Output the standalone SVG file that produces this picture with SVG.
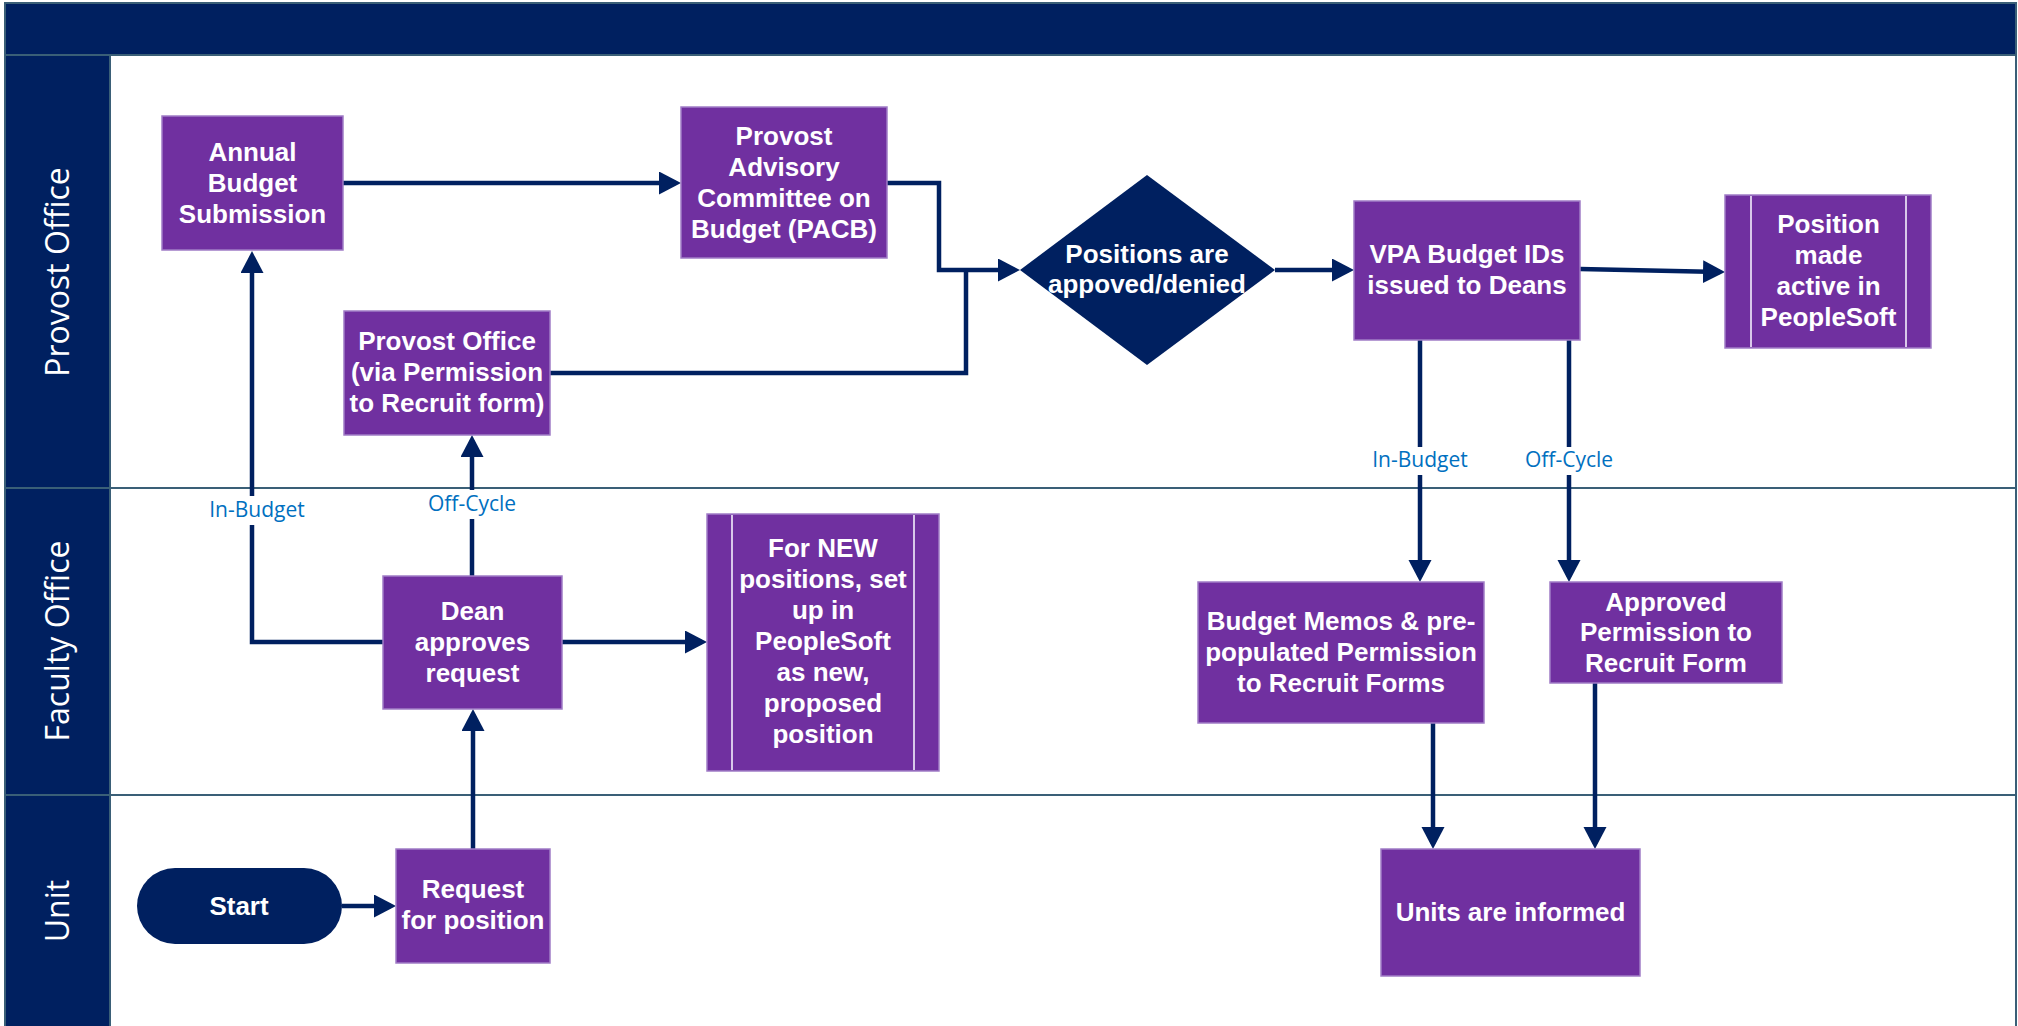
<svg xmlns="http://www.w3.org/2000/svg" width="2018" height="1026" viewBox="0 0 2018 1026">
<defs>
<marker id="ah" markerUnits="userSpaceOnUse" markerWidth="22" markerHeight="24" refX="17" refY="11.5" orient="auto">
<path d="M0,0 L22,11.5 L0,23 z" fill="#002060"/>
</marker>
<style>
.lane{fill:#fff;stroke:#3a5f77;stroke-width:2}
.lanehead{fill:#002060;stroke:#3a5f77;stroke-width:2}
.lanetxt{font-family:"Open Sans","Noto Sans",sans-serif;font-size:32px;fill:#fff;text-anchor:middle}
.box{fill:#7030a0;stroke:#a07cc6;stroke-width:1.5}
.sub{stroke:#d9c8ea;stroke-width:2}
.t{font-family:"Liberation Sans",Arial,sans-serif;font-weight:bold;font-size:26px;fill:#fff;text-anchor:middle}
.c{fill:none;stroke:#002060;stroke-width:4.5;stroke-linejoin:miter}
.lbl{font-family:"Open Sans","Noto Sans",sans-serif;font-size:21px;fill:#0070c0;text-anchor:middle}
</style>
</defs>
<rect x="0" y="0" width="2018" height="1026" fill="#fff"/>
<g id="pool">
<rect x="5" y="3" width="2011" height="52" class="lanehead"/>
<rect x="110" y="55" width="1906" height="433" class="lane"/>
<rect x="110" y="488" width="1906" height="307" class="lane"/>
<rect x="110" y="795" width="1906" height="240" class="lane"/>
<rect x="5" y="55" width="105" height="433" class="lanehead"/>
<rect x="5" y="488" width="105" height="307" class="lanehead"/>
<rect x="5" y="795" width="105" height="240" class="lanehead"/>
<text class="lanetxt" transform="translate(69,272) rotate(-90)">Provost Office</text>
<text class="lanetxt" transform="translate(69,641) rotate(-90)">Faculty Office</text>
<text class="lanetxt" transform="translate(69,911) rotate(-90)">Unit</text>
</g>
<g id="connectors">
<path class="c" d="M343,183 H676" marker-end="url(#ah)"/>
<path class="c" d="M887,183 H939 V270 H1015" marker-end="url(#ah)"/>
<path class="c" d="M550,373 H966 V270"/>
<path class="c" d="M1275,270 H1349" marker-end="url(#ah)"/>
<path class="c" d="M1580,269 L1720,272" marker-end="url(#ah)"/>
<path class="c" d="M1420,340 V577" marker-end="url(#ah)"/>
<path class="c" d="M1569,340 V577" marker-end="url(#ah)"/>
<path class="c" d="M1433,723 V844" marker-end="url(#ah)"/>
<path class="c" d="M1595,683 V844" marker-end="url(#ah)"/>
<path class="c" d="M342,906 H391" marker-end="url(#ah)"/>
<path class="c" d="M473,849 V714" marker-end="url(#ah)"/>
<path class="c" d="M472,576 V440" marker-end="url(#ah)"/>
<path class="c" d="M383,642 H252 V256" marker-end="url(#ah)"/>
<path class="c" d="M562,642 H702" marker-end="url(#ah)"/>
<rect x="1368" y="447" width="104" height="28" fill="#fff"/>
<text class="lbl" x="1420" y="467">In-Budget</text>
<rect x="1522" y="447" width="94" height="28" fill="#fff"/>
<text class="lbl" x="1569" y="467">Off-Cycle</text>
<rect x="425" y="490" width="94" height="29" fill="#fff"/>
<text class="lbl" x="472" y="511">Off-Cycle</text>
<rect x="204" y="496" width="104" height="29" fill="#fff"/>
<text class="lbl" x="257" y="517">In-Budget</text>
</g>
<g id="annual">
<rect class="box" x="162" y="116" width="181" height="134"/>
<text class="t" x="252.5" y="161">Annual</text>
<text class="t" x="252.5" y="192">Budget</text>
<text class="t" x="252.5" y="223">Submission</text>
</g>
<g id="pacb">
<rect class="box" x="681" y="107" width="206" height="151"/>
<text class="t" x="784" y="145">Provost</text>
<text class="t" x="784" y="176">Advisory</text>
<text class="t" x="784" y="207">Committee on</text>
<text class="t" x="784" y="238">Budget (PACB)</text>
</g>
<g id="decision">
<polygon points="1147,175 1275,270 1147,365 1020,270" fill="#002060"/>
<text class="t" x="1147" y="263">Positions are</text>
<text class="t" x="1147" y="293">appoved/denied</text>
</g>
<g id="vpa">
<rect class="box" x="1354" y="201" width="226" height="139"/>
<text class="t" x="1467" y="263">VPA Budget IDs</text>
<text class="t" x="1467" y="294">issued to Deans</text>
</g>
<g id="active">
<rect class="box" x="1725" y="195" width="206" height="153"/>
<line class="sub" x1="1751" y1="196" x2="1751" y2="347"/>
<line class="sub" x1="1906" y1="196" x2="1906" y2="347"/>
<text class="t" x="1828.5" y="233">Position</text>
<text class="t" x="1828.5" y="264">made</text>
<text class="t" x="1828.5" y="295">active in</text>
<text class="t" x="1828.5" y="326">PeopleSoft</text>
</g>
<g id="provostform">
<rect class="box" x="344" y="311" width="206" height="124"/>
<text class="t" x="447" y="350">Provost Office</text>
<text class="t" x="447" y="381">(via Permission</text>
<text class="t" x="447" y="412">to Recruit form)</text>
</g>
<g id="dean">
<rect class="box" x="383" y="576" width="179" height="133"/>
<text class="t" x="472.5" y="620">Dean</text>
<text class="t" x="472.5" y="651">approves</text>
<text class="t" x="472.5" y="682">request</text>
</g>
<g id="newpos">
<rect class="box" x="707" y="514" width="232" height="257"/>
<line class="sub" x1="732" y1="515" x2="732" y2="770"/>
<line class="sub" x1="914" y1="515" x2="914" y2="770"/>
<text class="t" x="823" y="557">For NEW</text>
<text class="t" x="823" y="588">positions, set</text>
<text class="t" x="823" y="619">up in</text>
<text class="t" x="823" y="650">PeopleSoft</text>
<text class="t" x="823" y="681">as new,</text>
<text class="t" x="823" y="712">proposed</text>
<text class="t" x="823" y="743">position</text>
</g>
<g id="memos">
<rect class="box" x="1198" y="582" width="286" height="141"/>
<text class="t" x="1341" y="630">Budget Memos &amp; pre-</text>
<text class="t" x="1341" y="661">populated Permission</text>
<text class="t" x="1341" y="692">to Recruit Forms</text>
</g>
<g id="approved">
<rect class="box" x="1550" y="582" width="232" height="101"/>
<text class="t" x="1666" y="611">Approved</text>
<text class="t" x="1666" y="641">Permission to</text>
<text class="t" x="1666" y="672">Recruit Form</text>
</g>
<g id="units">
<rect class="box" x="1381" y="849" width="259" height="127"/>
<text class="t" x="1510.5" y="921">Units are informed</text>
</g>
<g id="request">
<rect class="box" x="396" y="849" width="154" height="114"/>
<text class="t" x="473" y="898">Request</text>
<text class="t" x="473" y="929">for position</text>
</g>
<g id="start">
<rect x="137" y="868" width="205" height="76" rx="38" ry="38" fill="#002060"/>
<text class="t" x="239" y="915">Start</text>
</g>
</svg>
